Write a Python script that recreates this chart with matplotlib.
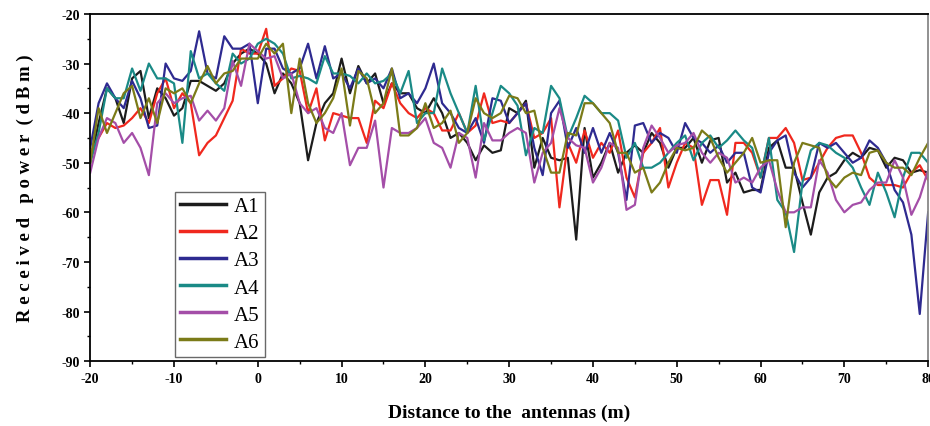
import numpy as np
import matplotlib
matplotlib.use('agg')
import matplotlib.pyplot as plt
from matplotlib.ticker import MultipleLocator

plt.rcParams['axes.unicode_minus'] = False

# distance (m), one sample per metre
dist = list(range(-20, 81))

a1 = [-50, -42, -35, -37, -42, -33, -31.5, -41, -35, -37, -40.5, -39, -33.5, -33.5, -34.5, -35.5, -34, -30, -28, -27,
      -28, -30, -36, -32, -34, -38, -49.5, -42, -38, -36, -29, -36, -30.5, -34, -32, -38, -34, -36, -36, -39,
      -40, -37, -40, -45, -44, -46, -49.5, -46.5, -48, -47.5, -39, -40, -37.5, -51, -45, -49, -49.5, -49, -65.5, -43,
      -53, -50, -46, -52, -48, -46.5, -48, -44, -46, -51, -47, -47, -45, -50, -45.5, -45, -54, -52, -56, -55.5,
      -55.5, -47, -45.5, -51, -51, -58, -64.5, -56, -53, -52, -49.5, -48, -49, -47, -47.5, -51, -49, -49.5, -52, -51.5,
      -52]
a2 = [-48, -45, -42, -43, -42.5, -41, -39, -42, -36, -33, -39, -36, -38, -48.5, -46, -44.5, -41, -37.5, -27, -28,
      -28, -23, -34.5, -33, -31, -31.5, -40, -35, -45.5, -40, -40.5, -41, -41, -46, -37.5, -39, -34, -38, -40, -41,
      -39, -40, -43.5, -43.5, -40, -44, -42.5, -36, -42, -41.5, -42, -40, -38, -45, -44, -41, -59, -46, -50, -43.5,
      -49, -46, -48, -43.5, -53, -57, -48, -46, -43, -55, -50, -46, -47, -58.5, -53.5, -53.5, -60.5, -46, -46, -48,
      -53, -45, -45, -43, -46, -53.5, -53, -50, -47, -45, -44.5, -44.5, -48, -53, -54.5, -54.5, -54.5, -55, -52, -50.5,
      -53.5]
a3 = [-47, -38, -34, -37, -39, -33.5, -37, -43, -42.5, -30, -33, -33.5, -31.5, -23.5, -32, -33, -24.5, -27, -27, -26,
      -38, -27, -27, -31, -32, -31, -26, -33, -26.5, -33, -32, -35, -31, -34, -33, -35, -31, -37, -36, -38,
      -35, -30, -38, -40, -43, -44, -41, -46, -37, -37.5, -42, -40, -38, -47, -52.5, -40, -37.5, -47, -43, -48,
      -43, -48, -44, -48, -57.5, -42.5, -42, -46, -44, -45, -48, -42, -45, -46, -48, -46.5, -50, -48, -48, -55,
      -56, -48, -45.5, -44.5, -52, -55, -53, -46, -47, -46, -48, -50, -49, -45.5, -47, -50, -55.5, -58, -64.5, -80.5,
      -60]
a4 = [-50, -44, -35, -37, -37, -31, -35.5, -30, -33, -33, -34, -46, -27.5, -33, -32, -34, -35.5, -28, -30, -29,
      -26, -25, -26, -28, -33, -32.5, -33, -34, -28.5, -32, -32, -32.5, -34, -32, -34, -33.5, -32, -36, -31.5, -42,
      -40, -40, -31, -36, -40, -44, -34.5, -45.5, -40, -34.5, -36, -38.5, -48.5, -43, -44, -34.5, -37, -45, -41, -36.5,
      -38, -40, -40, -41.5, -49, -46, -51, -51, -50, -48, -46, -44.5, -49.5, -46, -44.5, -47, -45.5, -43.5, -45.5, -47,
      -53, -45, -57.5, -60, -68, -54, -47.5, -46, -46.5, -48, -49, -51, -55, -58.5, -52, -56, -61, -53, -48, -48,
      -50]
a5 = [-52, -45, -41, -42, -46, -44, -47, -52.5, -38, -36, -38, -37, -36.5, -41.5, -39.5, -41.5, -39, -29.5, -34.5, -26,
      -27.5, -29, -28.5, -33, -32, -38, -40, -39, -43, -44, -40, -50.5, -47, -47, -41.5, -55, -43, -44, -44, -43,
      -41, -46, -47, -51, -44, -45, -53, -42, -45.5, -45.5, -44, -43, -44, -54, -48, -46, -39, -45, -46.5, -47,
      -54, -51, -46, -47, -59.5, -58.5, -47, -42.5, -45, -48, -46.5, -46, -44, -48, -50, -48, -49, -54, -53, -54,
      -51, -49.5, -55.5, -60, -60, -59, -59, -49.5, -52, -57.5, -60, -58.5, -58, -55.5, -54, -54, -49.5, -53, -60.5, -57,
      -51.5]
a6 = [-50, -39, -44, -40, -36, -34.5, -41, -37, -42, -35, -36, -35, -38, -34, -30.5, -34, -32, -31.5, -29, -29,
      -29, -26, -28, -26, -40, -29, -38, -42, -40, -37, -31, -42.5, -31.5, -33, -40, -38, -31, -44.5, -44.5, -43,
      -38, -43, -42, -39.5, -46, -44, -37, -40, -41, -40, -36.5, -37, -40, -39.5, -47, -52, -52, -44, -44.5, -38,
      -38, -40, -42, -48, -48, -52, -51, -56, -54, -50, -47, -47.5, -47, -43.5, -45, -49, -52, -50, -48, -45,
      -50, -49.5, -49.5, -63, -50, -46, -46.5, -47, -53, -55, -53, -52, -52.5, -48, -47.5, -50, -51, -51, -52.5, -49,
      -46]

series = [a1, a2, a3, a4, a5, a6]
names = ['A1', 'A2', 'A3', 'A4', 'A5', 'A6']
colors = ['#1c1c1c', '#f0281e', '#2e2a90', '#1a8a86', '#a44ea8', '#7b7b18']

fig = plt.figure(figsize=(9.3, 4.27), dpi=100)
ax = fig.add_axes([0.097, 0.152, 0.901, 0.813])

for ys, nm, c in zip(series, names, colors):
    ax.plot(dist, ys, color=c, lw=1.6, label=nm)

ax.set_xlim(-20, 80)
ax.set_ylim(-90, -20)
ax.xaxis.set_major_locator(MultipleLocator(10))
ax.xaxis.set_minor_locator(MultipleLocator(5))
ax.yaxis.set_major_locator(MultipleLocator(10))
ax.yaxis.set_minor_locator(MultipleLocator(5))
ax.tick_params(which='major', direction='out', length=4, width=1.2)
ax.tick_params(which='minor', direction='out', length=2.5, width=1.0)
for lab in ax.get_xticklabels() + ax.get_yticklabels():
    lab.set_family('Liberation Serif')
    lab.set_fontweight('bold')
    lab.set_fontsize(10)
for sp in ax.spines.values():
    sp.set_linewidth(1.3)
ax.spines['right'].set_color('#888888')

ax.set_xlabel('Distance to the  antennas (m)', family='Liberation Serif', fontweight='bold',
              fontsize=14, labelpad=14)
ax.set_ylabel('R e c e i v e d   p o w e r  ( d B m )', family='Liberation Serif', fontweight='bold',
              fontsize=13.5, labelpad=20)

leg = ax.legend(loc='lower left', bbox_to_anchor=(0.101, 0.012), borderaxespad=0, fancybox=False,
                frameon=True, edgecolor='#444444', handlelength=2.2, handletextpad=0.4, labelspacing=0.36,
                borderpad=0.25, prop={'family': 'Liberation Serif', 'size': 15})
leg.get_frame().set_linewidth(1.0)
for ln in leg.get_lines():
    ln.set_linewidth(2.5)

plt.savefig('out.png', dpi=100)
